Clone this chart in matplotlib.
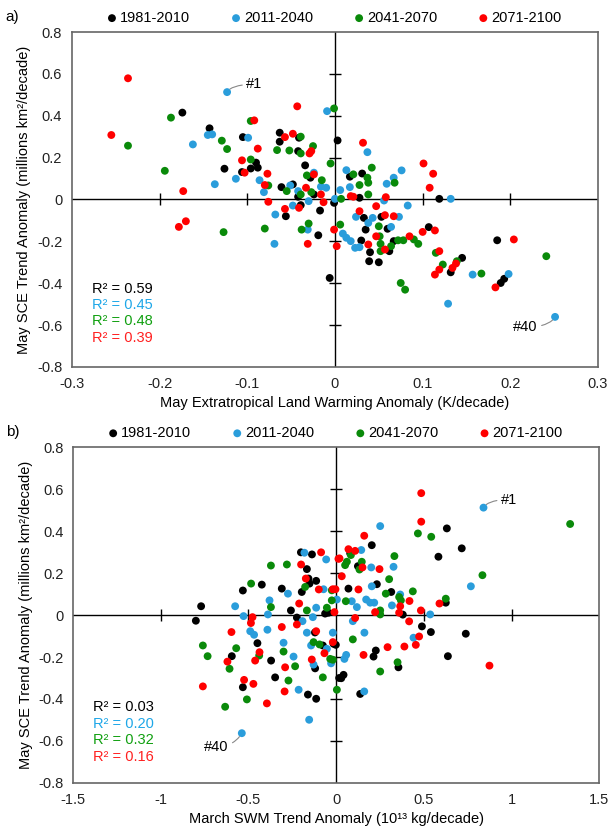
import numpy as np
import matplotlib
matplotlib.use("Agg")
import matplotlib.pyplot as plt

plt.rcParams['font.family'] = ['Liberation Sans', 'DejaVu Sans']

periods = ["1981-2010", "2011-2040", "2041-2070", "2071-2100"]
colors = ["#000000", "#2a9ddb", "#0a8a0a", "#ff0000"]
r2_text_colors = ["#000000", "#1ea7e8", "#10a010", "#ff2020"]

# panel a: May land warming anomaly (K/decade) vs May SCE trend anomaly
a_1981 = [(-0.174, 0.415), (-0.143, 0.340), (-0.126, 0.147), (0.003, 0.282), (-0.105, 0.298),
          (-0.063, 0.319), (-0.063, 0.276), (-0.041, 0.295), (-0.042, 0.231), (-0.090, 0.176),
          (-0.096, 0.148), (-0.088, 0.152), (-0.106, 0.131), (-0.034, 0.163), (-0.028, 0.104),
          (-0.048, 0.072), (-0.061, 0.059), (-0.042, 0.013), (-0.024, 0.024), (-0.001, -0.016),
          (-0.039, -0.027), (-0.056, -0.080), (-0.017, -0.053), (-0.019, -0.171), (-0.006, -0.375),
          (0.017, 0.109), (0.031, 0.124), (0.028, 0.008), (0.119, 0.003), (0.033, -0.088),
          (0.053, -0.083), (0.060, -0.140), (0.035, -0.144), (0.030, -0.196), (0.040, -0.252),
          (0.039, -0.295), (0.050, -0.300), (0.062, -0.247), (0.067, -0.199), (0.107, -0.132),
          (0.132, -0.348), (0.145, -0.279), (0.185, -0.195), (0.193, -0.379), (0.189, -0.399)]
a_2011 = [(-0.123, 0.513), (-0.009, 0.422), (-0.162, 0.263), (-0.145, 0.308), (-0.140, 0.311),
          (-0.137, 0.073), (-0.099, 0.295), (-0.113, 0.099), (-0.086, 0.092), (-0.081, 0.035),
          (-0.024, 0.128), (-0.016, 0.061), (-0.010, 0.056), (-0.051, 0.067), (-0.042, 0.040),
          (-0.030, -0.008), (0.000, 0.003), (-0.048, -0.029), (-0.068, -0.072), (-0.031, -0.144),
          (-0.069, -0.212), (0.037, 0.226), (0.013, 0.140), (0.017, 0.059), (0.006, 0.045),
          (0.076, 0.139), (0.067, 0.104), (0.059, 0.075), (0.056, -0.005), (0.132, 0.003),
          (0.083, -0.029), (0.024, -0.083), (0.043, -0.088), (0.038, -0.112), (0.064, -0.131),
          (0.073, -0.083), (0.009, -0.163), (0.013, -0.183), (0.018, -0.199), (0.023, -0.231),
          (0.028, -0.228), (0.157, -0.359), (0.198, -0.356), (0.129, -0.498), (0.251, -0.561)]
a_2041 = [(-0.236, 0.257), (-0.187, 0.391), (-0.194, 0.137), (-0.129, 0.281), (-0.123, 0.241),
          (-0.001, 0.435), (-0.096, 0.375), (-0.039, 0.300), (-0.025, 0.255), (-0.066, 0.236),
          (-0.052, 0.234), (-0.039, 0.220), (-0.096, 0.191), (-0.076, 0.067), (-0.032, 0.115),
          (-0.005, 0.172), (-0.015, 0.092), (-0.055, 0.040), (-0.039, 0.024), (-0.027, 0.035),
          (-0.080, -0.139), (-0.127, -0.156), (-0.038, -0.144), (-0.030, -0.115), (0.006, -0.120),
          (0.021, 0.120), (0.042, 0.152), (0.037, 0.104), (0.038, 0.080), (0.028, 0.069),
          (0.007, 0.003), (0.038, 0.024), (0.068, 0.080), (0.050, -0.128), (0.051, -0.176),
          (0.052, -0.212), (0.052, -0.247), (0.064, -0.223), (0.072, -0.195), (0.078, -0.195),
          (0.090, -0.191), (0.095, -0.212), (0.115, -0.255), (0.123, -0.311), (0.139, -0.295),
          (0.167, -0.354), (0.241, -0.271), (0.075, -0.399), (0.080, -0.431)]
a_2071 = [(-0.236, 0.579), (-0.255, 0.308), (-0.173, 0.040), (-0.043, 0.445), (-0.092, 0.378),
          (-0.057, 0.298), (-0.048, 0.314), (-0.088, 0.243), (-0.029, 0.220), (-0.027, 0.231),
          (-0.106, 0.187), (-0.103, 0.128), (-0.077, 0.123), (-0.080, 0.069), (-0.076, -0.011),
          (-0.024, 0.120), (-0.016, 0.024), (-0.013, -0.013), (-0.033, 0.056), (-0.041, -0.040),
          (-0.057, -0.045), (-0.031, -0.212), (-0.001, -0.144), (0.002, -0.223), (-0.178, -0.131),
          (-0.170, -0.104), (0.032, 0.271), (0.018, 0.016), (0.021, 0.013), (0.058, 0.011),
          (0.047, -0.032), (0.101, 0.172), (0.112, 0.123), (0.108, 0.056), (0.028, -0.056),
          (0.057, -0.075), (0.067, -0.080), (0.047, -0.176), (0.038, -0.215), (0.057, -0.239),
          (0.085, -0.176), (0.100, -0.155), (0.114, -0.148), (0.119, -0.247), (0.114, -0.359),
          (0.119, -0.335), (0.134, -0.327), (0.138, -0.306), (0.204, -0.191), (0.183, -0.420)]
a_r2 = [0.59, 0.45, 0.48, 0.39]

# panel b: March SWM trend anomaly (10^13 kg/decade) vs May SCE trend anomaly
b_1981 = [(-0.770, 0.042), (-0.800, -0.027), (-0.532, 0.117), (-0.424, 0.145), (-0.310, 0.126),
          (-0.258, 0.022), (-0.224, -0.012), (-0.121, -0.083), (-0.063, 0.007), (-0.044, 0.011),
          (-0.196, 0.110), (-0.152, 0.150), (-0.114, 0.163), (-0.167, 0.219), (-0.201, 0.299),
          (-0.138, 0.289), (-0.158, 0.174), (-0.595, -0.196), (-0.449, -0.134), (-0.371, -0.217),
          (-0.348, -0.297), (-0.161, -0.379), (-0.114, -0.399), (-0.120, -0.254), (-0.076, -0.145),
          (-0.532, -0.344), (0.017, -0.300), (-0.015, -0.137), (0.080, 0.294), (0.203, 0.333),
          (0.124, 0.233), (0.232, 0.147), (0.070, 0.126), (0.314, 0.110), (0.380, 0.002),
          (0.489, -0.054), (0.540, -0.081), (0.739, -0.089), (-0.002, -0.142), (0.226, -0.169),
          (0.213, -0.198), (0.637, -0.196), (0.355, -0.249), (0.042, -0.285), (0.029, -0.301),
          (0.137, -0.376), (0.631, 0.413), (0.716, 0.318), (0.583, 0.278), (0.625, 0.059)]
b_2011 = [(-0.275, 0.102), (-0.380, 0.070), (-0.576, 0.042), (-0.528, -0.005), (-0.389, 0.003),
          (-0.490, -0.077), (-0.468, -0.094), (-0.392, -0.070), (-0.192, -0.029), (-0.167, -0.084),
          (-0.133, -0.010), (-0.114, 0.035), (-0.019, -0.084), (0.004, 0.074), (-0.072, 0.123),
          (-0.181, 0.297), (-0.057, 0.265), (-0.300, -0.132), (-0.243, -0.198), (-0.214, -0.356),
          (-0.154, -0.499), (-0.129, -0.236), (-0.143, -0.145), (-0.053, -0.161), (-0.029, -0.230),
          (-0.538, -0.563), (0.143, 0.310), (0.200, 0.227), (0.327, 0.230), (0.203, 0.137),
          (0.365, 0.098), (0.318, 0.046), (0.089, 0.066), (0.118, 0.038), (0.171, 0.074),
          (0.194, 0.059), (0.217, 0.059), (0.536, 0.003), (0.095, -0.029), (0.441, -0.108),
          (0.161, -0.084), (0.057, -0.190), (0.047, -0.209), (0.160, -0.364), (0.840, 0.512),
          (0.251, 0.424), (0.768, 0.137)]
b_2041 = [(-0.485, 0.150), (-0.372, 0.236), (-0.281, 0.241), (-0.372, 0.038), (-0.167, 0.022),
          (-0.053, 0.035), (-0.025, 0.070), (-0.025, 0.118), (-0.177, 0.134), (-0.760, -0.145),
          (-0.733, -0.196), (-0.570, -0.158), (-0.608, -0.256), (-0.439, -0.193), (-0.300, -0.174),
          (-0.234, -0.244), (-0.272, -0.312), (-0.076, -0.297), (-0.129, -0.129), (-0.095, -0.140),
          (-0.034, -0.209), (-0.019, -0.213), (-0.509, -0.402), (-0.633, -0.437), (0.004, -0.356),
          (0.084, 0.286), (0.051, 0.238), (0.061, 0.254), (0.146, 0.254), (0.133, 0.217),
          (0.332, 0.281), (0.302, 0.171), (0.283, 0.102), (0.359, 0.086), (0.369, 0.070),
          (0.437, 0.113), (0.055, 0.066), (0.251, 0.022), (0.251, 0.003), (0.095, -0.116),
          (0.350, -0.225), (0.251, -0.269), (1.334, 0.434), (0.466, 0.389), (0.542, 0.373),
          (0.834, 0.190), (0.625, 0.078)]
b_2071 = [(-0.477, -0.010), (-0.486, -0.038), (-0.597, -0.081), (-0.310, -0.057), (-0.224, -0.045),
          (-0.211, 0.055), (-0.114, -0.077), (-0.010, 0.014), (-0.019, 0.123), (-0.004, 0.123),
          (-0.099, 0.122), (-0.173, 0.174), (-0.200, 0.241), (-0.086, 0.299), (0.013, 0.268),
          (-0.620, -0.222), (-0.437, -0.177), (-0.462, -0.217), (-0.291, -0.249), (-0.294, -0.364),
          (-0.139, -0.212), (-0.067, -0.182), (-0.019, -0.129), (-0.760, -0.340), (-0.525, -0.309),
          (-0.472, -0.328), (-0.395, -0.421), (0.070, 0.314), (0.108, 0.306), (0.019, 0.270),
          (0.150, 0.227), (0.247, 0.219), (0.032, 0.185), (0.127, 0.122), (0.418, 0.067),
          (0.222, 0.014), (0.365, 0.042), (0.359, 0.011), (0.483, 0.022), (0.108, -0.014),
          (0.416, -0.030), (0.473, -0.102), (0.293, -0.153), (0.389, -0.150), (0.454, -0.142),
          (0.156, -0.190), (0.485, 0.581), (0.485, 0.445), (0.160, 0.378), (0.589, 0.055),
          (0.874, -0.241)]
b_r2 = [0.03, 0.20, 0.32, 0.16]

a_xticks = [-0.3, -0.2, -0.1, 0, 0.1, 0.2, 0.3]
b_xticks = [-1.5, -1, -0.5, 0, 0.5, 1, 1.5]
yticks = [-0.8, -0.6, -0.4, -0.2, 0, 0.2, 0.4, 0.6, 0.8]


def fmt(v):
    return "0" if v == 0 else ("%g" % v)


def draw_panel(ax, series, r2, xticks, xlabel, tag, r2_y0):
    for pts, col, lab in zip(series, colors, periods):
        p = np.array(pts)
        ax.scatter(p[:, 0], p[:, 1], s=32, color=col, edgecolors="none", label=lab, zorder=3)

    ax.set_xlim(xticks[0], xticks[-1])
    ax.set_ylim(yticks[0], yticks[-1])
    ax.set_xticks(xticks)
    ax.set_yticks(yticks)
    ax.set_xticklabels([fmt(v) for v in xticks])
    ax.set_yticklabels([fmt(v) for v in yticks])
    ax.tick_params(length=0, labelsize=10.5, colors="#222222", pad=7)
    for s in ax.spines.values():
        s.set_color("#666666")
        s.set_linewidth(1.2)

    # crossing axes through the origin, with their own tick marks
    ax.axhline(0, color="black", lw=1, zorder=1)
    ax.axvline(0, color="black", lw=1, zorder=1)
    inner_x = [v for v in xticks[1:-1] if v != 0]
    inner_y = [v for v in yticks[1:-1] if v != 0]
    ax.plot(inner_x, [0] * len(inner_x), ls="none", marker="|", ms=8, mew=1, color="black", zorder=1)
    ax.plot([0] * len(inner_y), inner_y, ls="none", marker="_", ms=8, mew=1, color="black", zorder=1)

    ax.set_xlabel(xlabel, fontsize=10.5, labelpad=4)
    ax.set_ylabel("May SCE Trend Anomaly (millions km²/decade)", fontsize=10.5, labelpad=4)

    for i, (v, c) in enumerate(zip(r2, r2_text_colors)):
        ax.text(0.038, r2_y0 - i * 0.049, "R² = %.2f" % v, color=c, fontsize=10.5,
                transform=ax.transAxes, va="center", ha="left")

    ax.legend(loc="lower center", bbox_to_anchor=(0.5, 0.995), ncol=4, frameon=False,
              handlelength=0.5, handletextpad=0.3, columnspacing=2.9, fontsize=10.5,
              markerscale=1.0, borderaxespad=0.2)
    ax.text(-0.127, 1.045, tag, transform=ax.transAxes, fontsize=11, va="center", ha="left")


fig = plt.figure(figsize=(6.09, 8.32), dpi=100)
ax_a = fig.add_axes([0.118, 0.559, 0.864, 0.4025])
ax_b = fig.add_axes([0.120, 0.059, 0.864, 0.4035])

draw_panel(ax_a, [a_1981, a_2011, a_2041, a_2071], a_r2, a_xticks,
           "May Extratropical Land Warming Anomaly (K/decade)", "a)", 0.234)
draw_panel(ax_b, [b_1981, b_2011, b_2041, b_2071], b_r2, b_xticks,
           "March SWM Trend Anomaly (10¹³ kg/decade)", "b)", 0.225)

# model labels for the two extreme models
ann = dict(arrowprops=dict(arrowstyle="-", color="#888888", lw=0.8,
                           connectionstyle="angle3,angleA=0,angleB=60",
                           shrinkA=1, shrinkB=3), fontsize=10.5, va="center")
ax_a.annotate("#1", xy=a_2011[0], xytext=(-0.101, 0.55), ha="left", **ann)
ax_a.annotate("#40", xy=a_2011[-1], xytext=(0.231, -0.61), ha="right", **ann)
ax_b.annotate("#1", xy=b_2011[-3], xytext=(0.94, 0.55), ha="left", **ann)
ax_b.annotate("#40", xy=b_2011[25], xytext=(-0.614, -0.627), ha="right", **ann)

fig.savefig("out.png", dpi=100)
